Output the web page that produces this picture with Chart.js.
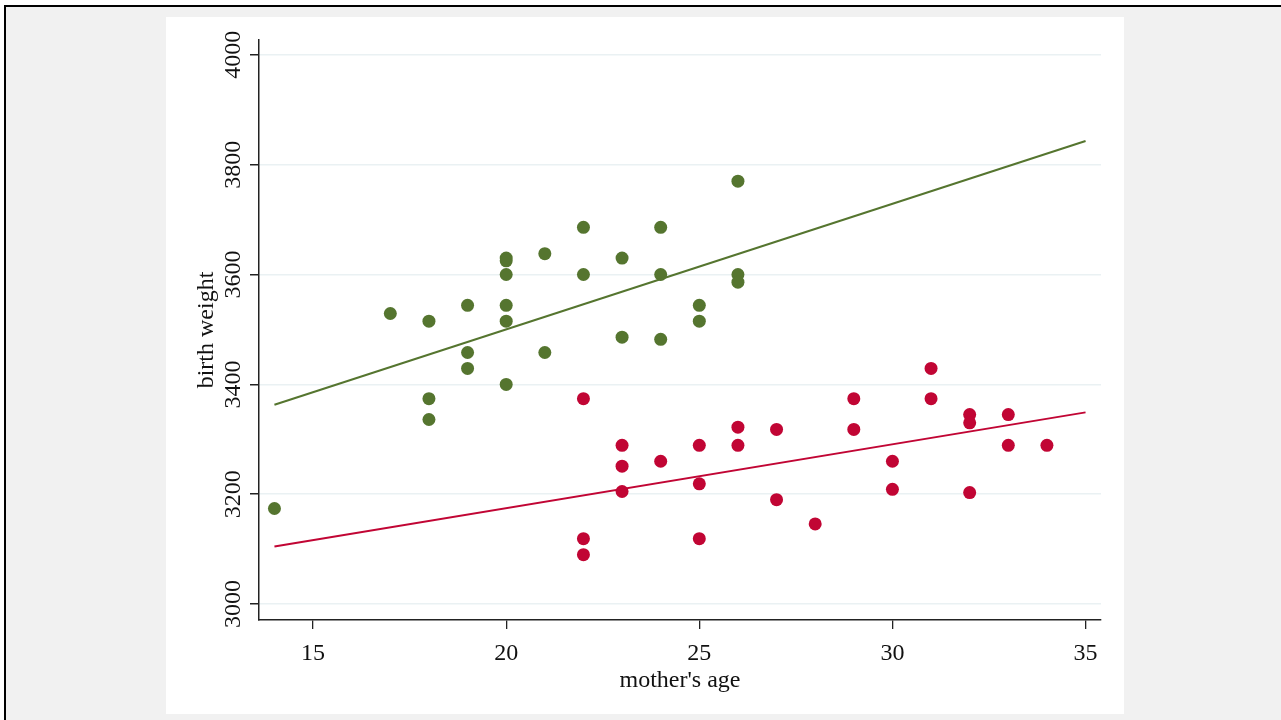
<!DOCTYPE html>
<html>
<head>
<meta charset="utf-8">
<script src="https://cdn.jsdelivr.net/npm/chart.js@4"></script>
<style>
  html, body { margin: 0; padding: 0; background: #ffffff; }
  #frame {
    position: absolute; left: 4px; top: 5px; width: 1300px; height: 730px;
    background: #f1f1f1; border-left: 2px solid #000; border-top: 2px solid #000;
  }
  #panel {
    position: absolute; left: 166px; top: 17px; width: 958px; height: 697px;
    background: #ffffff;
  }
</style>
</head>
<body>
<div id="frame"></div>
<div id="panel"><canvas id="scatter" width="958" height="697"></canvas></div>
<script>
// Mother's age / birth weight, two groups
const greenAge    = [14, 17, 18, 18, 18, 19, 19, 19, 20, 20, 20, 20, 20, 20, 21, 21, 22, 22, 23, 23, 24, 24, 24, 25, 25, 26, 26, 26];
const greenWeight = [3174, 3529, 3515, 3374, 3336, 3544, 3458, 3429, 3630, 3625, 3600, 3544, 3515, 3400, 3638, 3458, 3686, 3600, 3630, 3486, 3686, 3600, 3482, 3544, 3515, 3770, 3600, 3586];

const redAge    = [22, 22, 22, 23, 23, 23, 24, 25, 25, 25, 26, 26, 27, 27, 28, 29, 29, 30, 30, 31, 31, 32, 32, 32, 33, 33, 34];
const redWeight = [3374, 3119, 3090, 3289, 3251, 3205, 3260, 3289, 3219, 3119, 3322, 3289, 3318, 3190, 3146, 3374, 3318, 3260, 3209, 3429, 3374, 3345, 3330, 3203, 3345, 3289, 3289];

// Fitted lines (end points)
const fitAge         = [14, 35];
const greenFitWeight = [3363, 3843];
const redFitWeight   = [3105, 3349];

const xTicks = [15, 20, 25, 30, 35];
const yTicks = [3000, 3200, 3400, 3600, 3800, 4000];

const green = '#55752f';
const red = '#c10534';

const toPoints = (xs, ys) => xs.map((x, i) => ({ x: x, y: ys[i] }));
const serif = 'Liberation Serif';

new Chart(document.getElementById('scatter').getContext('2d'), {
    type: 'scatter',
    data: {
        datasets: [
            {
                label: 'green fit',
                type: 'line',
                data: toPoints(fitAge, greenFitWeight),
                borderColor: green,
                borderWidth: 2,
                pointRadius: 0,
                fill: false
            },
            {
                label: 'red fit',
                type: 'line',
                data: toPoints(fitAge, redFitWeight),
                borderColor: red,
                borderWidth: 2,
                pointRadius: 0,
                fill: false
            },
            {
                label: 'green',
                data: toPoints(greenAge, greenWeight),
                backgroundColor: green,
                borderWidth: 0,
                pointRadius: 6.5
            },
            {
                label: 'red',
                data: toPoints(redAge, redWeight),
                backgroundColor: red,
                borderWidth: 0,
                pointRadius: 6.5
            }
        ]
    },
    options: {
        responsive: false,
        animation: false,
        layout: { padding: { top: 23, right: 23, left: 0, bottom: 0 } },
        plugins: {
            legend: { display: false },
            tooltip: { enabled: false }
        },
        scales: {
            x: {
                type: 'linear',
                min: 13.6,
                max: 35.4,
                afterBuildTicks: (scale) => { scale.ticks = xTicks.map(v => ({ value: v })); },
                afterFit: (scale) => { scale.height = 94; },
                grid: { drawOnChartArea: false, tickColor: '#222', tickLength: 9, lineWidth: 1.3 },
                border: { color: '#222', width: 1.5 },
                ticks: { color: '#111', font: { family: serif, size: 24 }, padding: 10, maxRotation: 0 },
                title: {
                    display: true,
                    text: "mother's age",
                    color: '#111',
                    font: { family: serif, size: 24 },
                    padding: { top: 0, bottom: 19 }
                }
            },
            y: {
                type: 'linear',
                min: 2971,
                max: 4027,
                afterBuildTicks: (scale) => { scale.ticks = yTicks.map(v => ({ value: v })); },
                afterFit: (scale) => { scale.width = 93; },
                grid: { color: '#eaf1f3', lineWidth: 1.5, tickColor: '#222', tickLength: 9 },
                border: { color: '#222', width: 1.5 },
                ticks: {
                    color: '#111',
                    font: { family: serif, size: 24 },
                    minRotation: 90,
                    maxRotation: 90,
                    crossAlign: 'center',
                    padding: -8,
                    callback: (v) => String(v)
                },
                title: {
                    display: true,
                    text: 'birth weight',
                    color: '#111',
                    font: { family: serif, size: 24 },
                    padding: { top: 26, bottom: 0 }
                }
            }
        }
    }
});
</script>
</body>
</html>
